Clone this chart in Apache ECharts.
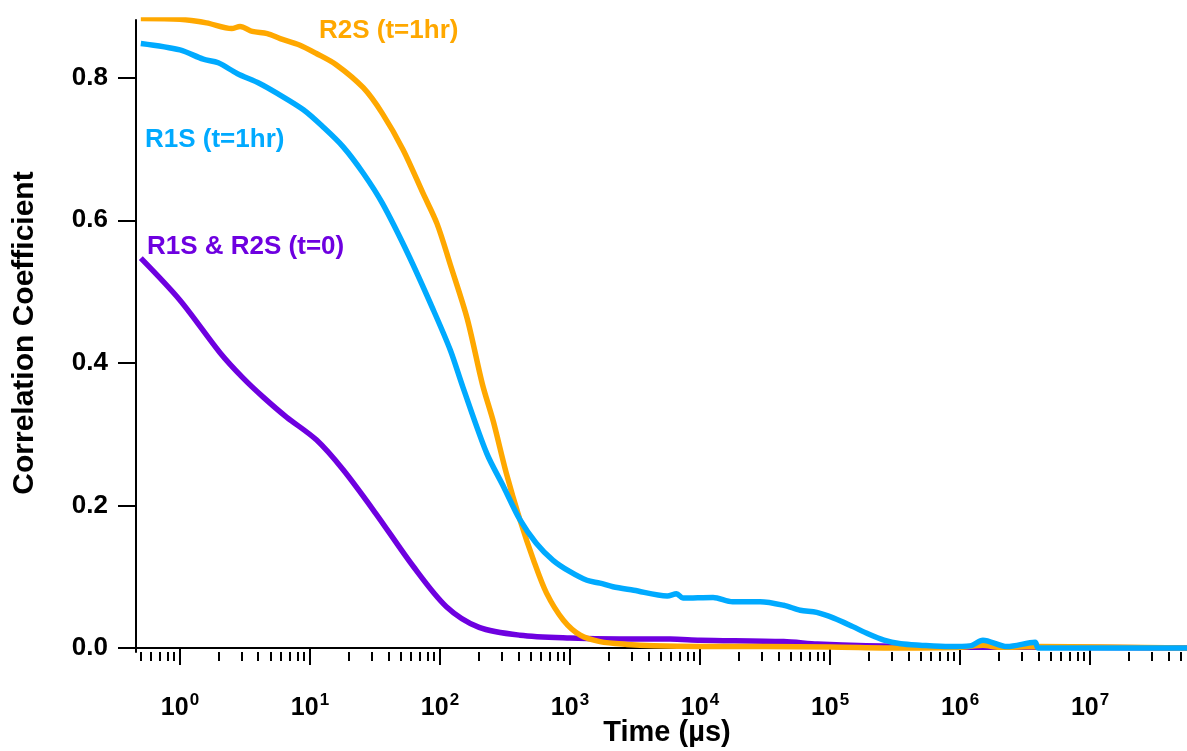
<!DOCTYPE html>
<html><head><meta charset="utf-8">
<script src="https://cdn.jsdelivr.net/npm/echarts@6/dist/echarts.min.js"></script>
<style>html,body{margin:0;padding:0;background:#fff}#c{width:1187px;height:751px}</style>
</head><body><div id="c"></div>
<script>
// time in microseconds, correlation coefficient
const majorTicks = [1, 10, 100, 1e3, 1e4, 1e5, 1e6, 1e7];
const minorMultipliers = [2, 3, 4, 5, 6, 7, 8, 9];
const yTicks = [0, 0.2, 0.4, 0.6, 0.8];
const seriesNames = ['R1S & R2S (t=0)', 'R2S (t=1hr)', 'R1S (t=1hr)'];
const xTitle = 'Time (µs)';
const yTitle = 'Correlation Coefficient';

const r2sHr = [[0.5,0.883],[1,0.882],[1.6,0.877],[2.5,0.869],[2.9,0.872],[3.6,0.865],[4.7,0.862],[5.9,0.855],[8.3,0.846],[11.2,0.834],[16,0.818],[25.7,0.786],[36,0.75],[52,0.699],[74,0.638],[95,0.595],[120,0.538],[162,0.462],[212,0.37],[257,0.318],[324,0.245],[412,0.18],[525,0.123],[660,0.077],[890,0.039],[1200,0.018],[1700,0.009],[2750,0.005],[4400,0.003],[1e4,0.002],[3.2e4,0.002],[1e5,0.0015],[3.5e5,0.0],[1e6,0.001],[1.5e6,0.004],[2e6,0.001],[4e6,0.002],[5.57e7,0]];

const r1sHr = [[0.5,0.848],[1,0.839],[1.51,0.826],[1.97,0.821],[2.75,0.806],[4.1,0.792],[5.6,0.778],[8.9,0.755],[12.6,0.731],[18,0.703],[25.7,0.666],[36,0.624],[57,0.552],[89,0.474],[120,0.418],[150,0.366],[229,0.273],[309,0.226],[412,0.18],[550,0.147],[741,0.123],[1000,0.107],[1350,0.095],[1700,0.091],[2140,0.086],[3090,0.081],[5600,0.073],[6600,0.076],[7400,0.070],[1.26e4,0.071],[1.78e4,0.065],[2.9e4,0.065],[4.4e4,0.060],[5.9e4,0.053],[7.9e4,0.050],[1.07e5,0.042],[1.5e5,0.030],[1.9e5,0.021],[2.6e5,0.011],[3.5e5,0.006],[4.9e5,0.004],[8.3e5,0.002],[1.2e6,0.003],[1.5e6,0.011],[2.3e6,0.002],[3.78e6,0.008],[4e6,0],[5.57e7,0]];

const bothT0 = [[0.5,0.547],[1,0.488],[2.04,0.414],[3.05,0.379],[4.37,0.352],[6.6,0.324],[11.2,0.292],[18,0.25],[32,0.189],[62,0.115],[112,0.058],[200,0.029],[412,0.018],[1000,0.014],[2400,0.0126],[5900,0.0126],[1e4,0.011],[4.4e4,0.009],[8e4,0.0056],[1.9e5,0.003],[1e6,0.001],[4e6,0.001],[5.57e7,0]];

const minorTicks = [0.5, 0.6, 0.7, 0.8, 0.9];
majorTicks.forEach(d => minorMultipliers.forEach(m => { if (d * m < 5.57e7) minorTicks.push(d * m); }));

const FONT = 'Liberation Sans, Arial, sans-serif';
const colors = ['#6E00E0', '#FFA800', '#00AAFF'];
const xMin = 0.459, xMax = 5.57e7;

const chart = echarts.init(document.getElementById('c'));
chart.setOption({
  animation: false,
  backgroundColor: '#fff',
  grid: { left: 136, right: 0, top: 20, bottom: 99, containLabel: false, outerBoundsMode: 'none' },
  xAxis: [{
    type: 'log', logBase: 10, min: xMin, max: xMax, position: 'bottom',
    axisLine: { lineStyle: { color: '#000', width: 2 } },
    axisTick: { customValues: majorTicks, length: 17, lineStyle: { color: '#000', width: 2 } },
    axisLabel: {
      customValues: majorTicks, margin: 40, color: '#000',
      formatter: v => '{b|10}{s|' + Math.round(Math.log10(v)) + '}',
      rich: {
        b: { fontFamily: FONT, fontWeight: 'bold', fontSize: 25, color: '#000' },
        s: { fontFamily: FONT, fontWeight: 'bold', fontSize: 17, color: '#000', padding: [0, 0, 15, 1] }
      }
    },
    splitLine: { show: false }
  }, {
    type: 'log', logBase: 10, min: xMin, max: xMax, position: 'bottom', gridIndex: 0,
    axisLine: { show: false },
    axisTick: { customValues: minorTicks, length: 9, lineStyle: { color: '#000', width: 2 } },
    axisLabel: { show: false },
    splitLine: { show: false }
  }],
  yAxis: {
    type: 'value', min: -0.0056, max: 0.881,
    name: yTitle, nameLocation: 'middle', nameGap: 96,
    nameTextStyle: { fontFamily: FONT, fontWeight: 'bold', fontSize: 30, color: '#000', padding: [0, 0, 0, 6] },
    axisLine: { show: true, onZero: false, lineStyle: { color: '#000', width: 2 } },
    axisTick: { show: true, customValues: yTicks, length: 18, lineStyle: { color: '#000', width: 2 } },
    axisLabel: { customValues: yTicks, margin: 28, color: '#000', fontFamily: FONT, fontWeight: 'bold', fontSize: 26,
      formatter: v => v.toFixed(1) },
    splitLine: { show: false }
  },
  series: [bothT0, r2sHr, r1sHr].map((d, i) => ({
    type: 'line', name: seriesNames[i], data: d, xAxisIndex: 0,
    showSymbol: false, smooth: 0.3, clip: true,
    lineStyle: { color: colors[i], width: 5.5 }
  })),
  graphic: [
    { type: 'text', x: 319, y: 31, style: { text: seriesNames[1], fill: colors[1], font: 'bold 26px ' + FONT, textVerticalAlign: 'middle' } },
    { type: 'text', x: 145, y: 140, style: { text: seriesNames[2], fill: colors[2], font: 'bold 26px ' + FONT, textVerticalAlign: 'middle' } },
    { type: 'text', x: 147, y: 247, style: { text: seriesNames[0], fill: colors[0], font: 'bold 26px ' + FONT, textVerticalAlign: 'middle' } },
    { type: 'text', x: 667, y: 733, style: { text: xTitle, fill: '#000', font: 'bold 29px ' + FONT, textAlign: 'center', textVerticalAlign: 'middle' } }
  ]
});
</script></body></html>
